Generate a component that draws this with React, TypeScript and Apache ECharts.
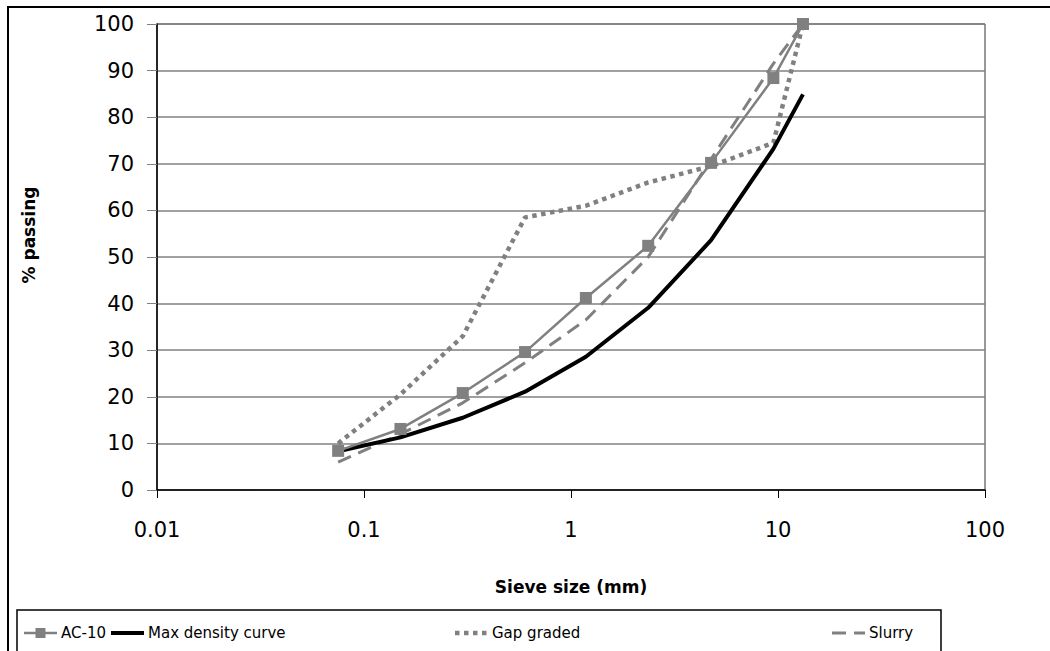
import React, { useEffect, useRef } from "react";
import * as echarts from "echarts";

// Sieve openings (mm)
const sieveSizes = [0.075, 0.15, 0.3, 0.6, 1.18, 2.36, 4.75, 9.5, 13.2];

// Percent passing for each gradation
const ac10 = [8.4, 13.1, 20.8, 29.6, 41.2, 52.4, 70.2, 88.4, 100];
const maxDensity = [8.3, 11.3, 15.5, 21.1, 28.6, 39.1, 53.6, 73.2, 84.9];
const gapGraded = [10, 20.5, 33, 58.5, 61, 66, 69.5, 74.5, 100];
const slurry = [6, 12, 18.7, 27.3, 36.5, 50, 71, 91.5, 100];

const seriesNames = ["AC-10", "Max density curve", "Gap graded", "Slurry"];
const xTicks = [0.01, 0.1, 1, 10, 100];

const GRAY = "#808080";
const FONT = "DejaVu Sans, Verdana, sans-serif";

const lineStyles = [
  { color: GRAY, width: 2.5, type: "solid" as const },
  { color: "#000", width: 4, type: "solid" as const },
  { color: GRAY, width: 4.5, type: [4.5, 4.5] },
  { color: GRAY, width: 3, type: [14, 8] },
];

const pairs = (ys: number[]) => sieveSizes.map((x, i) => [x, ys[i]]);

// Legend keys drawn along the boxed strip under the chart
function legendGraphics() {
  const lefts = [24, 111, 455, 832];
  const keyWidth = 33;
  const y = 633;
  const out: any[] = [];
  seriesNames.forEach((name, i) => {
    const ls = lineStyles[i];
    const x0 = lefts[i];
    const x1 = x0 + keyWidth;
    out.push({
      type: "line",
      silent: true,
      shape: { x1: x0, y1: y, x2: x1, y2: y },
      style: {
        stroke: ls.color,
        lineWidth: ls.width,
        lineDash: Array.isArray(ls.type) ? ls.type : null,
        lineCap: "butt",
      },
    });
    if (i === 0) {
      out.push({
        type: "rect",
        silent: true,
        shape: { x: (x0 + x1) / 2 - 5, y: y - 5, width: 10, height: 10 },
        style: { fill: GRAY },
      });
    }
    out.push({
      type: "text",
      silent: true,
      x: x1 + 4,
      y,
      style: {
        text: name,
        fill: "#000",
        font: `15px ${FONT}`,
        verticalAlign: "middle",
        align: "left",
      },
    });
  });
  return out;
}

export default function App() {
  const ref = useRef<HTMLDivElement>(null);

  useEffect(() => {
    if (!ref.current) return;
    const chart = echarts.init(ref.current, null, { renderer: "svg" });

    chart.setOption({
      animation: false,
      backgroundColor: "#fff",
      grid: {
        left: 157,
        right: 65,
        top: 24,
        bottom: 161,
        show: true,
        borderColor: "#333",
        borderWidth: 1,
        backgroundColor: "#fff",
      },
      xAxis: {
        type: "log",
        logBase: 10,
        min: xTicks[0],
        max: xTicks[xTicks.length - 1],
        name: "Sieve size (mm)",
        nameLocation: "middle",
        nameGap: 88,
        nameTextStyle: { fontFamily: FONT, fontSize: 17, fontWeight: "bold", color: "#000" },
        axisLine: { show: true, lineStyle: { color: "#000", width: 1.5 } },
        axisTick: { show: true, length: 8, lineStyle: { color: "#000" } },
        minorTick: { show: false },
        splitLine: { show: false },
        axisLabel: {
          margin: 29,
          fontFamily: FONT,
          fontSize: 21,
          color: "#000",
          formatter: (v: number) => String(parseFloat(v.toPrecision(6))),
        },
      },
      yAxis: {
        type: "value",
        min: 0,
        max: 100,
        interval: 10,
        axisLine: { show: true, lineStyle: { color: "#000", width: 1.5 } },
        axisTick: { show: true, length: 10, inside: false, lineStyle: { color: GRAY } },
        splitLine: { show: true, lineStyle: { color: GRAY, width: 1.5 } },
        axisLabel: { margin: 23, fontFamily: FONT, fontSize: 21, color: "#000" },
      },
      series: [
        {
          name: seriesNames[0],
          type: "line",
          data: pairs(ac10),
          symbol: "rect",
          symbolSize: 12,
          itemStyle: { color: GRAY },
          lineStyle: lineStyles[0],
          z: 4,
        },
        {
          name: seriesNames[1],
          type: "line",
          data: pairs(maxDensity),
          symbol: "none",
          itemStyle: { color: "#000" },
          lineStyle: lineStyles[1],
          z: 3,
        },
        {
          name: seriesNames[2],
          type: "line",
          data: pairs(gapGraded),
          symbol: "none",
          itemStyle: { color: GRAY },
          lineStyle: { ...lineStyles[2], cap: "butt" },
          z: 2,
        },
        {
          name: seriesNames[3],
          type: "line",
          data: pairs(slurry),
          symbol: "none",
          itemStyle: { color: GRAY },
          lineStyle: { ...lineStyles[3], cap: "butt" },
          z: 2,
        },
      ],
      graphic: [
        {
          type: "rect",
          silent: true,
          shape: { x: 8, y: 7, width: 1100, height: 700 },
          style: { fill: "none", stroke: "#000", lineWidth: 2 },
        },
        {
          type: "text",
          silent: true,
          x: 29,
          y: 235,
          rotation: Math.PI / 2,
          style: {
            text: "% passing",
            fill: "#000",
            font: `bold 17px ${FONT}`,
            align: "center",
            verticalAlign: "middle",
          },
        },
        {
          type: "rect",
          silent: true,
          shape: { x: 17, y: 610, width: 924, height: 60 },
          style: { fill: "none", stroke: "#000", lineWidth: 1.5 },
        },
        ...legendGraphics(),
      ],
    });

    return () => chart.dispose();
  }, []);

  return (
    <div
      ref={ref}
      style={{ position: "fixed", left: 0, top: 0, width: 1050, height: 651 }}
    />
  );
}
